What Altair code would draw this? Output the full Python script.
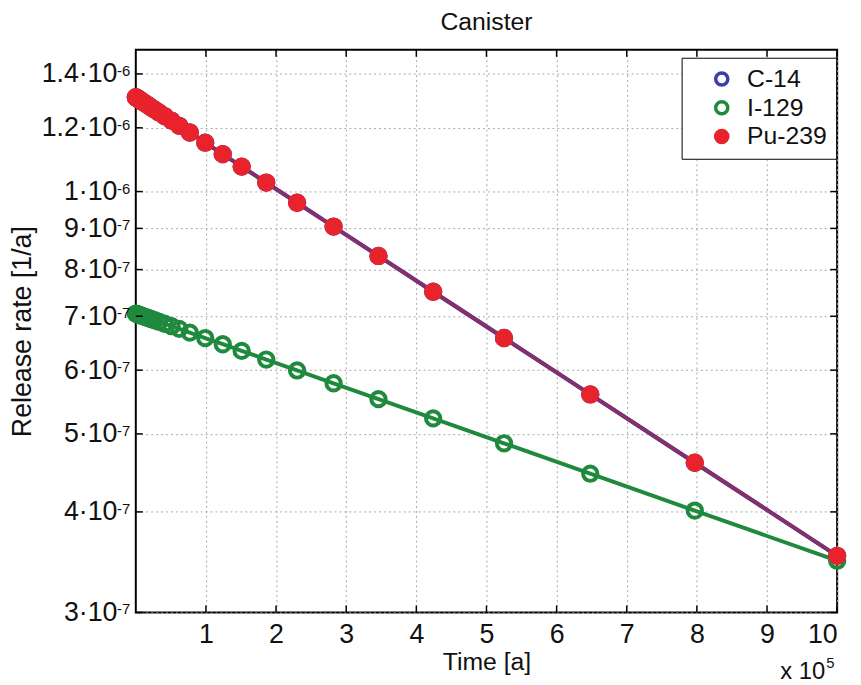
import altair as alt
import pandas as pd

# ---- data (time in units of 1e5 years) ----
time_e5 = [0.0, 0.01, 0.02, 0.03, 0.04, 0.05, 0.06, 0.08, 0.09, 0.12, 0.14,
           0.18, 0.22, 0.27, 0.33, 0.41, 0.51, 0.62, 0.77, 0.99, 1.24, 1.51,
           1.86, 2.30, 2.82, 3.46, 4.24, 5.25, 6.48, 7.97, 10.0]

pu239 = [1.310e-6, 1.308e-6, 1.306e-6, 1.305e-6, 1.303e-6, 1.301e-6, 1.299e-6,
         1.296e-6, 1.294e-6, 1.289e-6, 1.286e-6, 1.279e-6, 1.272e-6, 1.264e-6,
         1.254e-6, 1.241e-6, 1.225e-6, 1.207e-6, 1.184e-6, 1.150e-6, 1.113e-6,
         1.074e-6, 1.026e-6, 9.685e-7, 9.047e-7, 8.318e-7, 7.509e-7, 6.578e-7,
         5.597e-7, 4.604e-7, 3.528e-7]

c14 = [1.310e-6, 1.308e-6, 1.306e-6, 1.305e-6, 1.303e-6, 1.301e-6, 1.299e-6,
       1.296e-6, 1.294e-6, 1.289e-6, 1.286e-6, 1.279e-6, 1.272e-6, 1.264e-6,
       1.254e-6, 1.241e-6, 1.225e-6, 1.207e-6, 1.184e-6, 1.150e-6, 1.113e-6,
       1.074e-6, 1.026e-6, 9.685e-7, 9.047e-7, 8.318e-7, 7.509e-7, 6.578e-7,
       5.597e-7, 4.604e-7, 3.528e-7]

i129 = [7.054e-7, 7.049e-7, 7.044e-7, 7.039e-7, 7.034e-7, 7.029e-7, 7.024e-7,
        7.014e-7, 7.009e-7, 6.994e-7, 6.984e-7, 6.965e-7, 6.945e-7, 6.920e-7,
        6.891e-7, 6.852e-7, 6.804e-7, 6.752e-7, 6.680e-7, 6.577e-7, 6.462e-7,
        6.340e-7, 6.185e-7, 5.995e-7, 5.779e-7, 5.523e-7, 5.227e-7, 4.867e-7,
        4.462e-7, 4.015e-7, 3.479e-7]

series_names = ["C-14", "I-129", "Pu-239"]
x_ticks = [1, 2, 3, 4, 5, 6, 7, 8, 9, 10]
y_ticks = [3e-7, 4e-7, 5e-7, 6e-7, 7e-7, 8e-7, 9e-7, 1e-6, 1.2e-6, 1.4e-6]
y_tick_mantissa = ["3·10", "4·10", "5·10", "6·10", "7·10", "8·10", "9·10",
                   "1·10", "1.2·10", "1.4·10"]
y_tick_exponent = ["-7", "-7", "-7", "-7", "-7", "-7", "-7", "-6", "-6", "-6"]

# ---- tables ----
rows = []
for name, vals in zip(series_names, [c14, i129, pu239]):
    for t, v in zip(time_e5, vals):
        rows.append({"t": t, "v": v, "series": name})
df = pd.DataFrame(rows)
df_xt = pd.DataFrame({"t": x_ticks})
df_yt = pd.DataFrame({"v": y_ticks, "exp": y_tick_exponent})

W, H = 708, 568
FONT = "Liberation Sans, Arial, DejaVu Sans, sans-serif"

parts = [f"abs(datum.value - {v:.2e}) < {v * 0.001:.2e} ? '{lab}'"
         for v, lab in zip(y_ticks, y_tick_mantissa)]
y_label_expr = " : ".join(parts) + " : ''"

X = alt.X("t:Q",
          scale=alt.Scale(domain=[0, 10], nice=False, zero=False),
          axis=alt.Axis(values=x_ticks, title="Time [a]", format="d",
                        labelPadding=9, titlePadding=3, labelFontSize=27,
                        titleFontSize=25))
Y = alt.Y("v:Q",
          scale=alt.Scale(type="log", domain=[3e-7, 1.5e-6], nice=False),
          axis=alt.Axis(values=y_ticks, title="Release rate [1/a]",
                        labelExpr=y_label_expr, labelPadding=19,
                        titlePadding=5, labelFontSize=27, titleFontSize=27))

line_colors = {"C-14": "#3d3d9e", "I-129": "#1f8a3d", "Pu-239": "#83306e"}
stroke_colors = ["#3d3da8", "#1f8a3d", "#e8232b"]
fill_colors = ["transparent", "transparent", "#e8232b"]

line_layers = [
    alt.Chart(df).transform_filter(alt.datum.series == name)
    .mark_line(strokeWidth=4, color=line_colors[name])
    .encode(x=X, y=Y)
    for name in series_names
]

leg = dict(title=None, orient="none", legendX=551, legendY=8,
           fillColor="white", strokeColor="black", padding=9, rowPadding=2,
           labelFontSize=25, labelFont=FONT, labelColor="#111",
           symbolSize=150, symbolStrokeWidth=3.5, symbolOffset=19,
           labelOffset=13, symbolType="circle")

points = alt.Chart(df).mark_point(size=210, strokeWidth=4, opacity=1,
                                  shape="circle").encode(
    x=X, y=Y,
    stroke=alt.Stroke("series:N",
                      scale=alt.Scale(domain=series_names, range=stroke_colors),
                      legend=alt.Legend(**leg)),
    fill=alt.Fill("series:N",
                  scale=alt.Scale(domain=series_names, range=fill_colors),
                  legend=alt.Legend(**leg)),
)

tick_style = dict(color="black", strokeWidth=1.5)
tb = alt.Chart(df_xt).mark_rule(**tick_style).encode(
    x=X, y=alt.value(H), y2=alt.value(H - 7))
tt = alt.Chart(df_xt).mark_rule(**tick_style).encode(
    x=X, y=alt.value(0), y2=alt.value(7))
tl = alt.Chart(df_yt).mark_rule(**tick_style).encode(
    y=Y, x=alt.value(0), x2=alt.value(7))
tr = alt.Chart(df_yt).mark_rule(**tick_style).encode(
    y=Y, x=alt.value(W), x2=alt.value(W - 7))

# exponents of the y tick labels
y_exp = alt.Chart(df_yt).mark_text(
    align="left", baseline="alphabetic", fontSize=15, font=FONT,
    color="#111", dy=2).encode(y=Y, x=alt.value(-19), text="exp:N")

exp_main = alt.Chart(pd.DataFrame({"a": [0]})).mark_text(
    text="x 10", align="right", baseline="alphabetic", fontSize=24,
    font=FONT, color="#111").encode(x=alt.value(696), y=alt.value(635))
exp_sup = alt.Chart(pd.DataFrame({"a": [0]})).mark_text(
    text="5", align="left", baseline="alphabetic", fontSize=15,
    font=FONT, color="#111").encode(x=alt.value(697), y=alt.value(624))

chart = alt.layer(*line_layers, points, tb, tt, tl, tr, y_exp, exp_main,
                  exp_sup).properties(
    width=W, height=H,
    title=alt.TitleParams("Canister", fontSize=25, fontWeight="normal",
                          font=FONT, color="#111", offset=14),
    autosize=alt.AutoSizeParams(type="none"),
    padding={"left": 129, "top": 39, "right": 16, "bottom": 70},
).configure_view(
    stroke="black", strokeWidth=2
).configure_axis(
    grid=True, gridDash=[2, 3], gridColor="#a8a8a8", gridWidth=1,
    domain=False, ticks=False, tickSize=0,
    labelFont=FONT, titleFont=FONT, labelColor="#111", titleColor="#111",
    titleFontWeight="normal",
)

chart.save("out.html", embed_options={"renderer": "svg", "actions": False})
